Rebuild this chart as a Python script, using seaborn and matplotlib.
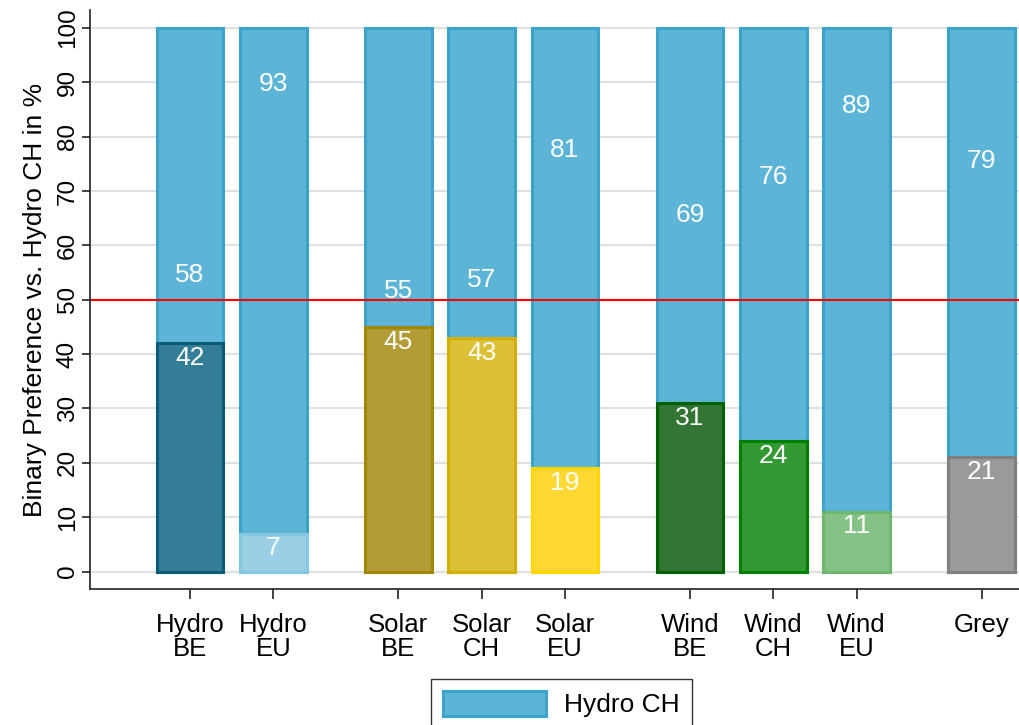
import pandas as pd
import seaborn as sns
import matplotlib.pyplot as plt
from matplotlib.patches import Patch

# Data
labels = ["Hydro\nBE", "Hydro\nEU", "Solar\nBE", "Solar\nCH", "Solar\nEU",
          "Wind\nBE", "Wind\nCH", "Wind\nEU", "Grey"]
positions = [0, 1, 2.5, 3.5, 4.5, 6, 7, 8, 9.5]
alt_share = [42, 7, 45, 43, 19, 31, 24, 11, 21]
hydro_ch_share = [58, 93, 55, 57, 81, 69, 76, 89, 79]

fills = ["#347d96", "#99d0e4", "#b39b35", "#dcc035", "#ffd833",
         "#337533", "#339933", "#85c285", "#9a9a9a"]
edges = ["#0b5a78", "#86c8e0", "#a08800", "#d4af00", "#ffd700",
         "#005f00", "#008000", "#6eb66e", "#808080"]
hydro_fill = "#5cb4d6"
hydro_edge = "#3aa4cc"

df = pd.DataFrame({"pos": positions, "label": labels,
                   "alt": alt_share, "hydro": hydro_ch_share})
df["total"] = df["alt"] + df["hydro"]

sns.set_theme(style="white")
plt.rcParams["font.family"] = ["Liberation Sans", "DejaVu Sans"]
plt.rcParams.update({"text.color": "black", "axes.labelcolor": "black",
                     "xtick.color": "black", "ytick.color": "black"})

fig = plt.figure(figsize=(10.19, 7.25), dpi=100)
ax = fig.add_axes([0.0883, 0.1876, 0.9117, 0.7986])

# full bar = Hydro CH, then the alternative drawn over its lower part
sns.barplot(data=df, x="pos", y="total", native_scale=True, color=hydro_fill,
            saturation=1, edgecolor=hydro_edge, linewidth=2.2, ax=ax)
n_top = len(ax.patches)
sns.barplot(data=df, x="pos", y="alt", hue="label", palette=fills,
            native_scale=True, saturation=1, linewidth=2.2, legend=False, ax=ax)
for p in ax.patches[:n_top]:
    p.set_facecolor(hydro_fill)
    p.set_edgecolor(hydro_edge)
bottom_bars = sorted(ax.patches[n_top:], key=lambda p: p.get_x())
for p, ec in zip(bottom_bars, edges):
    p.set_edgecolor(ec)

# value labels
for x, a, h in zip(positions, alt_share, hydro_ch_share):
    ax.text(x, a - 2.7, str(a), ha="center", va="center", color="white", fontsize=19)
    ax.text(x, h - 3.4, str(h), ha="center", va="center", color="white", fontsize=19)

ax.axhline(50, color="red", lw=1.5, zorder=1.5)

ax.set_xlim(-1.2, 9.95)
ax.set_ylim(-3.2, 103.3)
ax.set_yticks(range(0, 101, 10))
ax.set_xticks(positions)
ax.set_xticklabels(labels, fontsize=18.5, linespacing=1.0)
ax.tick_params(axis="y", labelsize=17.5, labelrotation=90, length=6, width=1.2,
               pad=2, left=True, color="#222222")
ax.tick_params(axis="x", length=7, width=1.2, pad=10, bottom=True, color="#222222")
for t in ax.get_yticklabels():
    t.set_va("center")

ax.grid(axis="y", color="#e0e0e0", lw=1.5)
ax.grid(axis="x", visible=False)
ax.set_axisbelow(True)
sns.despine(ax=ax)
for s in ["left", "bottom"]:
    ax.spines[s].set_color("#222222")
    ax.spines[s].set_linewidth(1.2)

ax.set_xlabel("")
ax.set_ylabel("Binary Preference vs. Hydro CH in %", fontsize=19, labelpad=7)

handle = Patch(facecolor=hydro_fill, edgecolor=hydro_edge, linewidth=2.2, label="Hydro CH")
leg = fig.legend(handles=[handle], loc="upper center", bbox_to_anchor=(0.551, 0.063),
                 fontsize=19, fancybox=False, handlelength=3.9, handleheight=1.05,
                 borderpad=0.45, handletextpad=0.7, borderaxespad=0)
leg.get_frame().set_edgecolor("black")
leg.get_frame().set_linewidth(1.0)

fig.savefig("out.png", dpi=100)
